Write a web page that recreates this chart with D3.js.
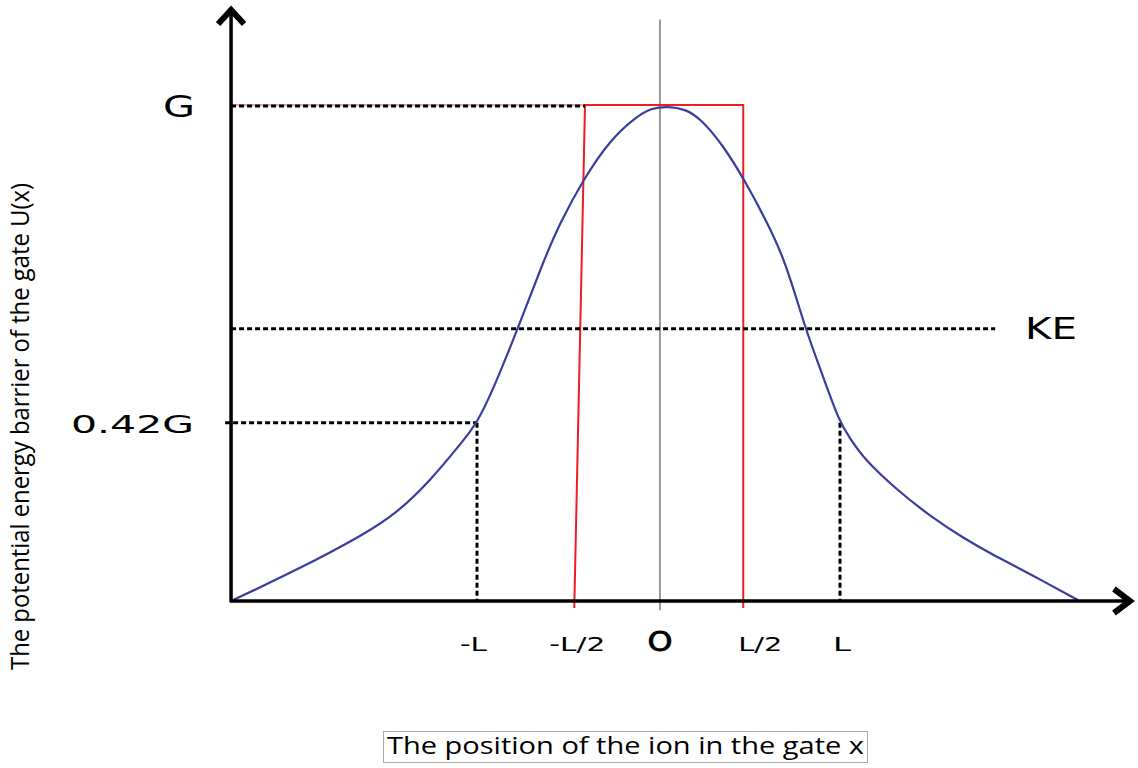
<!DOCTYPE html>
<html><head><meta charset="utf-8">
<script src="https://cdn.jsdelivr.net/npm/d3@7"></script>
<style>body{margin:0;background:#fff}svg{display:block}</style>
</head><body>
<svg id="c" width="1138" height="768"></svg>
<script>
// ---- data (x in units of L, y in units of G) ----
const curveX = [-2.355,-1.992,-1.628,-1.441,-1.259,-1.077,-1.000,-0.912,-0.774,-0.636,-0.543,-0.416,-0.268,-0.118,-0.036,0.052,0.146,0.229,0.355,0.477,0.592,0.702,0.807,0.906,0.999,1.055,1.127,1.314,1.496,1.678,1.865,2.047,2.311];
const curveY = [0,0.0626,0.1333,0.1778,0.2424,0.3232,0.3596,0.4263,0.5515,0.6848,0.7636,0.8505,0.9313,0.9798,0.9960,0.999,0.9939,0.9758,0.9212,0.8485,0.7697,0.6848,0.5515,0.4545,0.3596,0.3293,0.2889,0.2242,0.1717,0.1273,0.0889,0.0545,0.002];
const xTickValues = [-1, -0.464, 0.008, 0.467, 1];
const xTickLabels = ["-L", "-L/2", "O", "L/2", "L"];
const yTickValues = [1, 0.36];
const yTickLabels = ["G", "0.42G"];
const keValue = 0.55;
const keLabel = "KE";
const barrierXBottomLeft = -0.464, barrierXTopLeft = -0.405, barrierXRight = 0.467;
const barrierTop = 1.002, barrierBottom = -0.014;
const xDomain = [-2.355, 2.57];
const yDomain = [0, 1.19];
const xTitle = "The position of the ion in the gate x";
const yTitle = "The potential energy barrier of the gate U(x)";

// ---- layout ----
const svg = d3.select("#c");
const x = d3.scaleLinear().domain([-1, 1]).range([477, 840]);
const y = d3.scaleLinear().domain([0, 1]).range([601, 106]);
const font = "'DejaVu Sans', sans-serif";
const x0 = x(xDomain[0]), y0 = y(0);

// gray centre line
svg.append("line").attr("x1", x(xTickValues[2])).attr("x2", x(xTickValues[2]))
  .attr("y1", y(1.175)).attr("y2", y(-0.018)).attr("stroke", "#999").attr("stroke-width", 2);

// red barrier
svg.append("line").attr("x1", x0).attr("x2", x(barrierXTopLeft)).attr("y1", y(barrierTop)).attr("y2", y(barrierTop))
  .attr("stroke", "#f4a0a0").attr("stroke-width", 2);
svg.append("path")
  .attr("d", d3.line()([[x(barrierXBottomLeft), y(barrierBottom)], [x(barrierXTopLeft), y(barrierTop)], [x(barrierXRight), y(barrierTop)], [x(barrierXRight), y(barrierBottom)]]))
  .attr("fill", "none").attr("stroke", "#ee1c25").attr("stroke-width", 2);

// dotted guide lines
const dot = sel => sel.attr("stroke", "#000").attr("stroke-width", 3).attr("stroke-dasharray", "5,3").attr("fill", "none");
svg.append("line").attr("x1", x0).attr("x2", x(barrierXTopLeft)).attr("y1", y(yTickValues[0])).attr("y2", y(yTickValues[0])).call(dot);
svg.append("line").attr("x1", x0 - 6).attr("x2", x(-1)).attr("y1", y(yTickValues[1])).attr("y2", y(yTickValues[1])).call(dot);
svg.append("line").attr("x1", x(-1)).attr("x2", x(-1)).attr("y1", y(yTickValues[1])).attr("y2", y(0)).call(dot);
svg.append("line").attr("x1", x(1)).attr("x2", x(1)).attr("y1", y(yTickValues[1])).attr("y2", y(0)).call(dot);
svg.append("line").attr("x1", x0).attr("x2", x(1.855)).attr("y1", y(keValue)).attr("y2", y(keValue)).call(dot);

// curve
const pts = curveX.map((d, i) => [x(d), y(curveY[i])]);
svg.append("path").attr("d", d3.line().curve(d3.curveBasis)(pts))
  .attr("fill", "none").attr("stroke", "#3a3d9c").attr("stroke-width", 2.2);

// axes
svg.append("line").attr("x1", x0).attr("x2", x(xDomain[1])).attr("y1", y0).attr("y2", y0).attr("stroke", "#000").attr("stroke-width", 3.5);
svg.append("line").attr("x1", x0).attr("x2", x0).attr("y1", y0 + 1.5).attr("y2", y(yDomain[1])).attr("stroke", "#000").attr("stroke-width", 3.5);
// arrow heads
const xt = x(xDomain[1]) + 5, yt = y(yDomain[1]) - 2;
svg.append("path").attr("d", `M${xt - 16},${y0 - 12}L${xt},${y0}L${xt - 16},${y0 + 12}`)
  .attr("fill", "none").attr("stroke", "#000").attr("stroke-width", 6).attr("stroke-linejoin", "miter");
svg.append("path").attr("d", `M${x0 - 13},${yt + 14}L${x0},${yt}L${x0 + 13},${yt + 14}`)
  .attr("fill", "none").attr("stroke", "#000").attr("stroke-width", 6).attr("stroke-linejoin", "miter");

// x tick labels
const xLab = [
  {dx: -3.5, w: 27, fs: 19, sw: 0}, {dx: 3, w: 56, fs: 19, sw: 0}, {dx: 0, w: 25, fs: 26, sw: 0.8}, {dx: 17, w: 44, fs: 19, sw: 0}, {dx: 2, w: 18, fs: 19, sw: 0}
];
svg.selectAll(".xt").data(xTickValues).join("text")
  .attr("x", (d, i) => x(d) + xLab[i].dx).attr("y", 651)
  .attr("text-anchor", "middle").attr("font-family", font)
  .attr("font-size", (d, i) => xLab[i].fs)
  .attr("stroke", "#000").attr("stroke-width", (d, i) => xLab[i].sw)
  .attr("textLength", (d, i) => xLab[i].w).attr("lengthAdjust", "spacingAndGlyphs")
  .text((d, i) => xTickLabels[i]);

// y tick labels
const yLab = [{xr: 195, w: 32, fs: 31, dy: 11}, {xr: 194, w: 123, fs: 25, dy: 10}];
svg.selectAll(".yt").data(yTickValues).join("text")
  .attr("x", (d, i) => yLab[i].xr - yLab[i].w).attr("y", (d, i) => y(d) + yLab[i].dy)
  .attr("font-family", font).attr("font-size", (d, i) => yLab[i].fs)
  .attr("textLength", (d, i) => yLab[i].w).attr("lengthAdjust", "spacingAndGlyphs")
  .text((d, i) => yTickLabels[i]);

// KE label
svg.append("text").attr("x", 1025).attr("y", y(keValue) + 10).attr("font-family", font).attr("font-size", 30)
  .attr("textLength", 52).attr("lengthAdjust", "spacingAndGlyphs").text(keLabel);

// axis titles
svg.append("rect").attr("x", 383.5).attr("y", 731.5).attr("width", 484).attr("height", 31)
  .attr("fill", "none").attr("stroke", "#aaa").attr("stroke-width", 1);
svg.append("text").attr("x", 387).attr("y", 754).attr("font-family", "'Open Sans', sans-serif").attr("font-size", 23)
  .attr("textLength", 477).attr("lengthAdjust", "spacingAndGlyphs").text(xTitle);
svg.append("text").attr("transform", "translate(29,670) rotate(-90)")
  .attr("font-family", "'Open Sans', sans-serif").attr("font-size", 26)
  .attr("textLength", 487).attr("lengthAdjust", "spacingAndGlyphs").text(yTitle);
</script>
</body></html>
